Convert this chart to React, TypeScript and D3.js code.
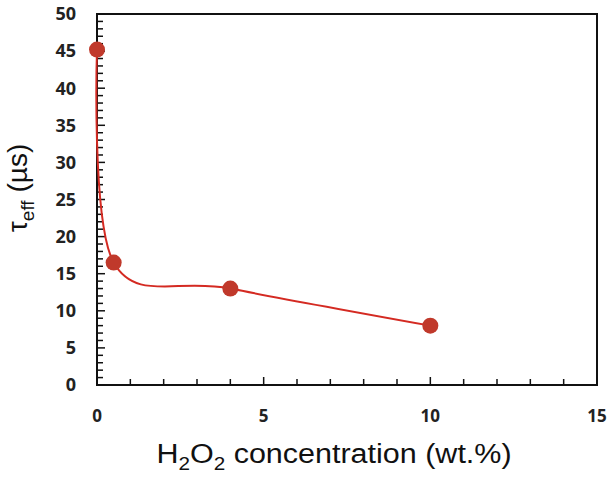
import React, { useEffect, useRef } from 'react';
import * as d3 from 'd3';

const concentration = [0, 0.5, 4, 10];
const tauEff = [45.2, 16.5, 13.0, 8.0];
const xTicks = [0, 5, 10, 15];
const yTicks = [0, 5, 10, 15, 20, 25, 30, 35, 40, 45, 50];

const App = () => {
  const ref = useRef<SVGSVGElement>(null);

  useEffect(() => {
    if (!ref.current) return;
    const svg = d3.select(ref.current);
    svg.selectAll('*').remove();

    // plot frame in page pixels
    const left = 97, right = 597, top = 14, bottom = 385;

    const x = d3.scaleLinear().domain([0, 15]).range([left, right]);
    const y = d3.scaleLinear().domain([0, 50]).range([bottom, top]);

    const g = svg.append('g');

    // frame
    g.append('rect')
      .attr('x', left).attr('y', top)
      .attr('width', right - left).attr('height', bottom - top)
      .attr('fill', 'none').attr('stroke', '#111').attr('stroke-width', 2);

    // minor + major ticks, pointing inward
    const xMinor = d3.range(0, 16, 1);
    g.selectAll('line.xt').data(xMinor).join('line')
      .attr('class', 'xt')
      .attr('x1', d => x(d)).attr('x2', d => x(d))
      .attr('y1', bottom).attr('y2', d => bottom - (d % 5 === 0 ? 8 : 6))
      .attr('stroke', '#111').attr('stroke-width', 1.5);

    const yMinor = d3.range(0, 51, 1);
    g.selectAll('line.yt').data(yMinor).join('line')
      .attr('class', 'yt')
      .attr('y1', d => y(d)).attr('y2', d => y(d))
      .attr('x1', left).attr('x2', d => left + (d % 5 === 0 ? 8 : 6))
      .attr('stroke', '#111').attr('stroke-width', 1.5);

    // tick labels
    g.selectAll('text.xl').data(xTicks).join('text')
      .attr('class', 'xl')
      .attr('x', d => x(d)).attr('y', bottom + 37)
      .attr('text-anchor', 'middle')
      .attr('font-family', 'Open Sans, sans-serif').attr('font-weight', 700)
      .attr('font-size', 17).attr('fill', '#222')
      .text(d => d);

    g.selectAll('text.yl').data(yTicks).join('text')
      .attr('class', 'yl')
      .attr('x', 76).attr('y', d => y(d)).attr('dy', '0.35em')
      .attr('text-anchor', 'end')
      .attr('font-family', 'Open Sans, sans-serif').attr('font-weight', 700)
      .attr('font-size', 18).attr('fill', '#222')
      .text(d => d);

    // axis titles (the source is slightly stretched horizontally)
    const xt = g.append('text')
      .attr('transform', 'translate(334,463) scale(1.09,1)')
      .attr('text-anchor', 'middle')
      .attr('font-family', 'Liberation Sans, Arial, sans-serif')
      .attr('font-size', 28).attr('fill', '#111');
    xt.append('tspan').text('H');
    xt.append('tspan').attr('font-size', 19).attr('dy', 7).text('2');
    xt.append('tspan').attr('dy', -7).text('O');
    xt.append('tspan').attr('font-size', 19).attr('dy', 7).text('2');
    xt.append('tspan').attr('dy', -7).text(' concentration (wt.%)');

    const yt = g.append('text')
      .attr('transform', 'translate(27,188) rotate(-90)')
      .attr('text-anchor', 'middle')
      .attr('font-family', 'Liberation Sans, Arial, sans-serif')
      .attr('font-size', 28).attr('fill', '#111');
    yt.append('tspan').text('τ');
    yt.append('tspan').attr('font-size', 19).attr('dy', 7).text('eff');
    yt.append('tspan').attr('dy', -7).text(' (µs)');

    const pts = concentration.map((c, i) => [c, tauEff[i]] as [number, number]);

    // smoothed line through the points
    const line = d3.line<[number, number]>()
      .x(d => x(d[0])).y(d => y(d[1]))
      .curve(d3.curveCardinal.tension(0));

    g.append('path')
      .datum(pts)
      .attr('d', line)
      .attr('fill', 'none')
      .attr('stroke', '#d42a22')
      .attr('stroke-width', 2);

    g.selectAll('circle').data(pts).join('circle')
      .attr('cx', d => x(d[0])).attr('cy', d => y(d[1]))
      .attr('r', 8)
      .attr('fill', '#c0392b');
  }, []);

  return <svg ref={ref} width={609} height={490} style={{ position: 'absolute', left: 0, top: 0 }} />;
};

export default App;
